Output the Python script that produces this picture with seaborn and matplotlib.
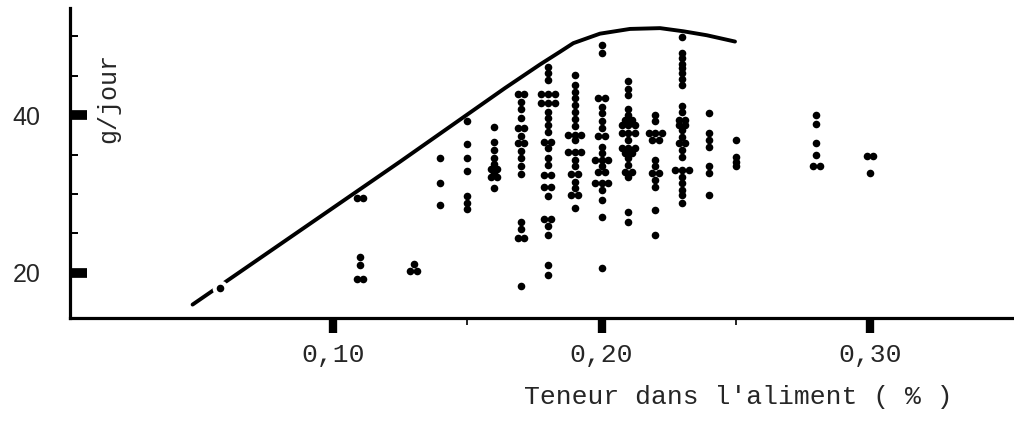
import matplotlib
matplotlib.use("Agg")
import matplotlib.pyplot as plt
import seaborn as sns
import pandas as pd
from collections import Counter

# ---- data ----
x_levels = [0.058, 0.11, 0.13, 0.14, 0.15, 0.16, 0.17, 0.18, 0.19,
            0.20, 0.21, 0.22, 0.23, 0.24, 0.25, 0.28, 0.30]

g006 = [18.1]
g011 = [29.5, 29.5, 22.0, 21.0, 19.3, 19.3]
g013 = [21.2, 20.3, 20.3]
g014 = [34.5, 31.4, 28.6]
g015 = [39.3, 36.3, 34.5, 32.9, 29.7, 28.9, 28.1]
g016 = [38.5, 36.6, 35.6, 34.6, 33.8, 33.2, 33.2, 32.6, 32.1, 32.1, 30.8]
g017 = [42.7, 42.7, 41.6, 40.7, 39.6, 38.3, 38.3, 37.3, 36.4, 36.4, 35.5,
        34.6, 33.6, 32.5, 26.5, 25.6, 24.4, 24.4, 18.4]
g018 = [46.1, 45.3, 44.4, 42.6, 42.6, 42.6, 41.5, 41.5, 41.5, 40.4, 39.6,
        38.7, 37.9, 36.6, 36.6, 35.8, 34.6, 33.7, 32.4, 32.4, 30.9, 30.9,
        29.7, 26.8, 26.8, 25.9, 24.8, 21.0, 19.7]
g019 = [45.1, 43.8, 42.9, 42.1, 41.3, 40.4, 39.5, 38.6, 37.5, 37.5, 37.5,
        36.8, 35.3, 35.3, 35.3, 34.3, 33.5, 32.5, 32.5, 31.5, 30.7, 29.9,
        29.9, 28.2]
g020 = [48.9, 47.8, 42.1, 42.1, 41.0, 40.2, 39.3, 38.3, 37.3, 37.3, 36.0,
        35.2, 34.3, 34.3, 34.3, 33.5, 32.8, 32.8, 31.4, 31.4, 31.4, 30.5,
        29.3, 27.1, 20.6]
g021 = [44.3, 43.3, 42.5, 40.8, 40.0, 39.4, 39.4, 38.7, 38.7, 38.7, 37.7,
        37.7, 37.7, 36.8, 35.8, 35.8, 35.8, 35.2, 35.2, 34.5, 33.7, 32.8,
        32.8, 32.2, 27.7, 26.4]
g022 = [40.0, 39.2, 37.7, 37.7, 37.7, 36.9, 36.9, 34.3, 33.5, 32.6, 32.6,
        31.8, 30.9, 28.0, 24.8]
g023 = [49.9, 47.9, 47.2, 46.5, 45.9, 45.3, 44.6, 43.8, 41.2, 40.4, 39.4,
        39.4, 38.7, 38.7, 38.1, 37.2, 36.5, 36.5, 35.6, 34.7, 33.0, 33.0,
        33.0, 32.2, 31.4, 30.5, 29.9, 28.8]
g024 = [40.2, 37.7, 36.9, 35.9, 33.5, 32.6, 29.9]
g025 = [36.8, 34.7, 34.1, 33.5]
g028 = [40.0, 38.9, 36.5, 34.9, 33.6, 33.6]
g030 = [34.8, 34.8, 32.6]

gain_columns = [g006, g011, g013, g014, g015, g016, g017, g018, g019,
                g020, g021, g022, g023, g024, g025, g028, g030]

# envelope curve
curve_x = [0.0477, 0.125, 0.164, 0.1771, 0.1845, 0.1895, 0.1994, 0.2106,
           0.2218, 0.2305, 0.2392, 0.2497]
curve_y = [16.0, 34.1, 43.4, 46.4, 48.0, 49.1, 50.3, 50.9,
           51.0, 50.6, 50.1, 49.3]

x_ticks = [0.10, 0.20, 0.30]
x_ticklabels = ["0,10", "0,20", "0,30"]
x_minor = [0.15, 0.25]
y_ticks = [20, 40]
y_ticklabels = ["20", "40"]
y_minor = [25, 30, 35, 45, 50]

# ---- build table: identical values in a column are drawn side by side ----
spacing = 0.0025
rows = []
for x0, vals in zip(x_levels, gain_columns):
    counts = Counter(vals)
    seen = Counter()
    for v in vals:
        n = counts[v]
        i = seen[v]
        seen[v] += 1
        rows.append({"teneur": x0 + (i - (n - 1) / 2) * spacing, "gain": v})
df = pd.DataFrame(rows)
df_first = pd.DataFrame({"teneur": [x_levels[0]] * len(g006), "gain": g006})
df_curve = pd.DataFrame({"teneur": curve_x, "gain": curve_y})

# ---- plot ----
sns.set_theme(style="white")
plt.rcParams["font.family"] = ["Liberation Mono", "DejaVu Sans"]

fig = plt.figure(figsize=(10.14, 4.23), dpi=100)
ax = fig.add_axes([70 / 1014, (423 - 318) / 423, 944 / 1014, 310 / 423])

sns.lineplot(data=df_curve, x="teneur", y="gain", sort=False, estimator=None,
             color="black", linewidth=2.8, ax=ax, zorder=2)
sns.scatterplot(data=df_first, x="teneur", y="gain", color="white", s=130,
                linewidth=0, ax=ax, zorder=2.5)
sns.scatterplot(data=df, x="teneur", y="gain", color="black", s=30,
                linewidth=0, ax=ax, zorder=3)

ax.set_xlim(0.00205, 0.3536)
ax.set_ylim(14.3, 53.55)

for s in ["top", "right"]:
    ax.spines[s].set_visible(False)
for s in ["left", "bottom"]:
    ax.spines[s].set_linewidth(2.3)
    ax.spines[s].set_color("black")

ax.set_xticks(x_ticks)
ax.set_xticklabels(x_ticklabels, fontsize=19, family="Liberation Mono")
ax.set_xticks(x_minor, minor=True)
ax.set_yticks(y_ticks)
ax.set_yticklabels(y_ticklabels, fontsize=18, family="Liberation Sans")
ax.set_yticks(y_minor, minor=True)

ax.tick_params(axis="x", which="major", direction="out", length=11, width=6,
               pad=7, color="black", bottom=True)
ax.tick_params(axis="x", which="minor", direction="out", length=5, width=1.2,
               color="black", bottom=True)
ax.tick_params(axis="y", which="major", direction="in", length=12, width=7,
               pad=21, color="black", left=True)
ax.tick_params(axis="y", which="minor", direction="in", length=6, width=1.4,
               color="black", left=True)

ax.set_xlabel("Teneur dans l'aliment ( % )", fontsize=19,
              family="Liberation Mono")
ax.xaxis.set_label_coords(0.708, -0.215)
ax.xaxis.label.set_verticalalignment("top")

ax.set_ylabel("g/jour", fontsize=18, family="Liberation Mono")
ax.yaxis.label.set_rotation_mode("default")
ax.yaxis.label.set_horizontalalignment("center")
ax.yaxis.label.set_verticalalignment("center")
ax.yaxis.set_label_coords(0.040, 0.71)

fig.savefig("out.png", dpi=100, facecolor="white")
